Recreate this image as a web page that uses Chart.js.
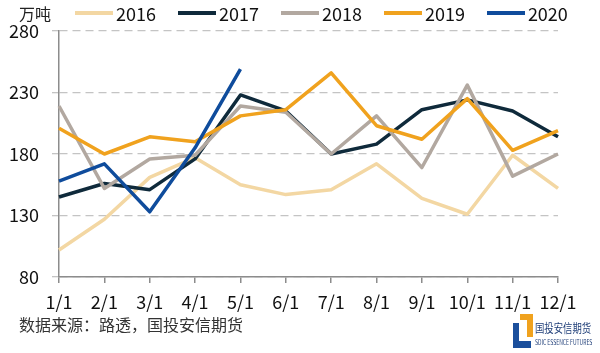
<!DOCTYPE html>
<html>
<head>
<meta charset="utf-8">
<script src="https://cdn.jsdelivr.net/npm/chart.js@4"></script>
<style>
  body { margin: 0; background: #fff; }
  #wrap { position: relative; width: 600px; height: 353px; font-family: "Noto Sans CJK SC", "Noto Sans", sans-serif; }
  #chart { position: absolute; left: 0; top: 0; }
  #unit { position: absolute; left: 19px; top: 2px; font-size: 16px; color: #222; line-height: 22px; }
  #legend { position: absolute; left: 75px; top: 2px; display: flex; align-items: center; height: 22px; }
  .item { display: flex; align-items: center; margin-right: 22px; font-size: 18px; color: #111; }
  .swatch { width: 38px; height: 4px; margin-right: 3px; }
  #source { position: absolute; left: 19px; top: 313px; font-size: 16px; color: #333; line-height: 22px; }
  #logo { position: absolute; left: 512px; top: 313px; width: 85px; height: 36px; }
  .blue1 { position: absolute; left: 1px; top: 10px; width: 6px; height: 25px; background: #1b4f9c; }
  .blue2 { position: absolute; left: 1px; top: 28px; width: 18px; height: 7px; background: #1b4f9c; }
  .org { position: absolute; left: 8px; top: 1px; width: 13px; height: 23px; border-top: 6px solid #f0a21e; border-right: 6px solid #f0a21e; box-sizing: border-box; }
  .cn { position: absolute; left: 23px; top: 8px; font-size: 12px; line-height: 14px; color: #1f3e78; white-space: nowrap; transform: scaleX(0.78); transform-origin: left top; }
  .en { position: absolute; left: 23px; top: 25px; font-size: 7px; line-height: 8px; color: #1f3e78; white-space: nowrap; transform: scaleX(0.72); transform-origin: left top; }
</style>
</head>
<body>
<div id="wrap">
  <canvas id="chart" width="600" height="353"></canvas>
  <div id="unit">万吨</div>
  <div id="legend"></div>
  <div id="source">数据来源：路透，国投安信期货</div>
  <div id="logo">
    <div class="blue1"></div><div class="blue2"></div><div class="org"></div>
    <div class="cn">国投安信期货</div>
    <div class="en">SDIC ESSENCE FUTURES</div>
  </div>
</div>
<script>
const months = ["1/1", "2/1", "3/1", "4/1", "5/1", "6/1", "7/1", "8/1", "9/1", "10/1", "11/1", "12/1"];
const years = ["2016", "2017", "2018", "2019", "2020"];
const y2016 = [102, 127, 161, 177, 155, 147, 151, 172, 144, 131, 179, 152];
const y2017 = [145, 156, 151, 176, 228, 215, 180, 188, 216, 224, 215, 194];
const y2018 = [219, 152, 176, 179, 219, 214, 180, 211, 169, 236, 162, 180];
const y2019 = [201, 180, 194, 190, 211, 216, 246, 203, 192, 225, 183, 199];
const y2020 = [158, 172, 133, 185, 249];
const colors = ["#f3d7a3", "#0f2a3b", "#b2a8a0", "#f0a21e", "#0f4c9c"];

const series = [y2016, y2017, y2018, y2019, y2020];
const datasets = series.map((vals, i) => ({
  label: years[i],
  data: vals,
  borderColor: colors[i],
  backgroundColor: colors[i],
  borderWidth: 3.5,
  borderJoinStyle: "round",
  pointRadius: 0,
  tension: 0,
  order: series.length - i  // later years on top
}));

// html legend
const legend = document.getElementById("legend");
datasets.forEach(ds => {
  const item = document.createElement("div");
  item.className = "item";
  item.innerHTML = '<span class="swatch" style="background:' + ds.borderColor + '"></span>' + ds.label;
  legend.appendChild(item);
});

const font = { family: '"Noto Sans CJK SC", "Noto Sans", sans-serif', size: 18 };

new Chart(document.getElementById("chart"), {
  type: "line",
  data: { labels: months, datasets: datasets },
  options: {
    responsive: false,
    animation: false,
    layout: { padding: { top: 31, right: 42, left: 0, bottom: 0 } },
    plugins: { legend: { display: false }, tooltip: { enabled: false } },
    scales: {
      x: {
        offset: false,
        grid: { drawOnChartArea: false, drawTicks: true, tickLength: 6, color: "#8c8c8c", lineWidth: 1.5 },
        border: { display: true, color: "#8c8c8c", width: 1.5 },
        ticks: { font: font, color: "#111", padding: 8, maxRotation: 0, autoSkip: false },
        afterFit: s => { s.height = 76; }
      },
      y: {
        min: 80,
        max: 280,
        grid: {
          color: "#c4c4c4", lineWidth: 1.3, tickLength: 7, tickColor: "#c4c4c4",
          tickBorderDash: [8, 5]
        },
        border: { display: true, color: "#8c8c8c", width: 1.5, dash: [8, 5] },
        ticks: { stepSize: 50, font: font, color: "#111", padding: 13 },
        afterFit: s => { s.width = 59; }
      }
    }
  }
});
</script>
</body>
</html>
